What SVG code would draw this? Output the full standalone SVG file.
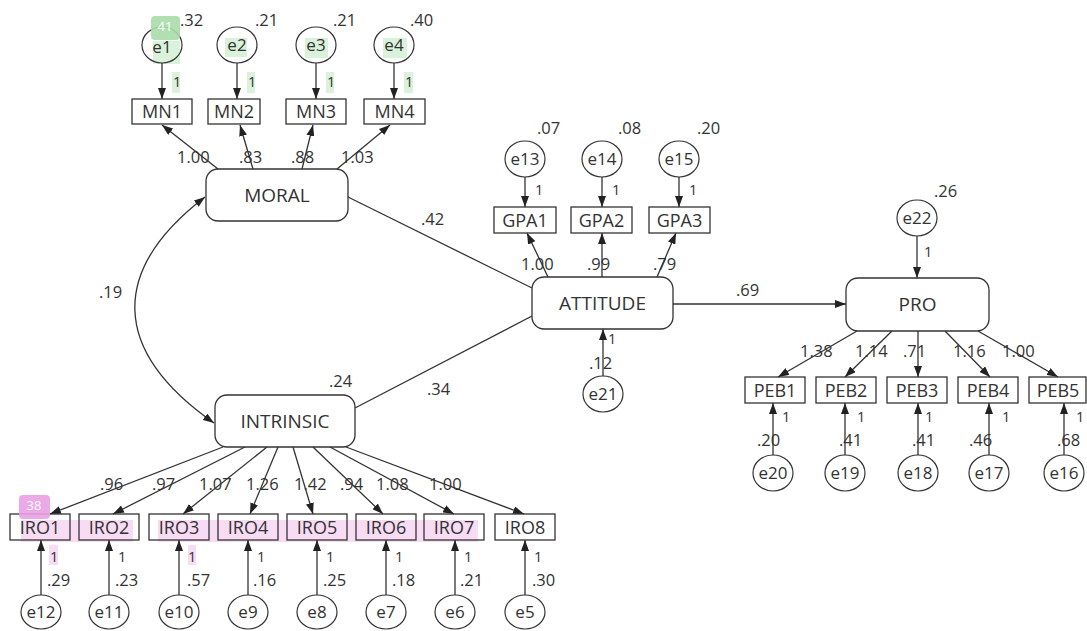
<svg xmlns="http://www.w3.org/2000/svg" width="1087" height="631" viewBox="0 0 1087 631">
<style>
text{font-family:"Open Sans","Liberation Sans",sans-serif;fill:#333}
.lat{fill:none;stroke:#333;stroke-width:1.3}
.obs{fill:none;stroke:#333;stroke-width:1.3}
.err{fill:none;stroke:#333;stroke-width:1.2}
.ll{font-size:19px;text-anchor:middle}
.ol{font-size:18px;text-anchor:middle}
.el{font-size:17px;text-anchor:middle}
.n{font-size:16.5px}
.one{font-size:14.5px}
.c line,.c path{stroke:#333;stroke-width:1.3;fill:none}
.a{marker-end:url(#ah)}
.hg{fill:#cdeccd;opacity:.75}
.hp{fill:#f6d3f1;opacity:.8}
.bt{font-size:13px;text-anchor:middle;fill:#fff}
</style>
<defs>
<marker id="ah" markerWidth="11" markerHeight="8" refX="11" refY="4" orient="auto-start-reverse" markerUnits="userSpaceOnUse">
<path d="M0,0 L11,4 L0,8 z" fill="#222"/>
</marker>
</defs>
<rect width="1087" height="631" fill="#fff"/>
<g id="highlights">
<rect class="hg" x="153" y="41" width="27" height="23"/>
<rect class="hg" x="172" y="72" width="8" height="21"/>
<rect class="hg" x="225" y="38" width="22" height="19"/>
<rect class="hg" x="247" y="72" width="8" height="21"/>
<rect class="hg" x="305" y="38" width="23" height="20"/>
<rect class="hg" x="326" y="72" width="8" height="21"/>
<rect class="hg" x="383" y="38" width="24" height="20"/>
<rect class="hg" x="404" y="72" width="9" height="21"/>
<rect class="hp" x="21" y="520" width="112" height="22"/>
<rect class="hp" x="158" y="520" width="320" height="22"/>
<rect class="hp" x="49" y="545" width="9" height="20"/>
<rect class="hp" x="188" y="545" width="8" height="20"/>
</g>
<g class="c" id="connectors">
<line class="a" x1="162" y1="63" x2="162" y2="99"/>
<line class="a" x1="237" y1="63" x2="237" y2="99"/>
<line class="a" x1="316" y1="63" x2="316" y2="99"/>
<line class="a" x1="394" y1="63" x2="394" y2="99"/>
<line class="a" x1="218" y1="169" x2="162" y2="125"/>
<line class="a" x1="253" y1="169" x2="240" y2="125"/>
<line class="a" x1="302" y1="169" x2="313" y2="125"/>
<line class="a" x1="337" y1="169" x2="390" y2="125"/>
<path d="M205,197 C110,270 110,350 214,423" marker-start="url(#ah)" marker-end="url(#ah)"/>
<line x1="348" y1="197" x2="532" y2="288"/>
<line x1="355" y1="408" x2="532" y2="316"/>
<line class="a" x1="525" y1="177" x2="525" y2="207"/>
<line class="a" x1="602" y1="177" x2="602" y2="207"/>
<line class="a" x1="679" y1="177" x2="679" y2="207"/>
<line class="a" x1="548" y1="277" x2="527" y2="233"/>
<line class="a" x1="602" y1="277" x2="602" y2="233"/>
<line class="a" x1="657" y1="277" x2="676" y2="233"/>
<line class="a" x1="603" y1="376" x2="603" y2="329"/>
<line class="a" x1="673" y1="304" x2="846" y2="304"/>
<line class="a" x1="917" y1="236" x2="917" y2="278"/>
<line class="a" x1="857" y1="331" x2="778" y2="377"/>
<line class="a" x1="892" y1="331" x2="845" y2="377"/>
<line class="a" x1="918" y1="331" x2="918" y2="377"/>
<line class="a" x1="945" y1="331" x2="990" y2="377"/>
<line class="a" x1="978" y1="331" x2="1058" y2="377"/>
<line class="a" x1="773" y1="455" x2="773" y2="403"/>
<line class="a" x1="845" y1="455" x2="845" y2="403"/>
<line class="a" x1="918" y1="455" x2="918" y2="403"/>
<line class="a" x1="989" y1="455" x2="989" y2="403"/>
<line class="a" x1="1064" y1="455" x2="1064" y2="403"/>
<line class="a" x1="223" y1="447" x2="50" y2="514"/>
<line class="a" x1="245" y1="447" x2="113" y2="514"/>
<line class="a" x1="267" y1="447" x2="183" y2="514"/>
<line class="a" x1="278" y1="447" x2="250" y2="514"/>
<line class="a" x1="293" y1="447" x2="313" y2="514"/>
<line class="a" x1="313" y1="447" x2="383" y2="514"/>
<line class="a" x1="330" y1="447" x2="454" y2="514"/>
<line class="a" x1="346" y1="447" x2="524" y2="514"/>
<line class="a" x1="41" y1="595" x2="41" y2="540"/>
<line class="a" x1="109" y1="595" x2="109" y2="540"/>
<line class="a" x1="179" y1="595" x2="179" y2="540"/>
<line class="a" x1="248" y1="595" x2="248" y2="540"/>
<line class="a" x1="317" y1="595" x2="317" y2="540"/>
<line class="a" x1="386" y1="595" x2="386" y2="540"/>
<line class="a" x1="455" y1="595" x2="455" y2="540"/>
<line class="a" x1="525" y1="595" x2="525" y2="540"/>
</g>
<g id="labels">
<text class="n" x="180" y="26">.32</text>
<text class="n" x="255" y="26">.21</text>
<text class="n" x="333" y="26">.21</text>
<text class="n" x="410" y="26">.40</text>
<text class="one" x="173" y="87">1</text>
<text class="one" x="248" y="87">1</text>
<text class="one" x="327" y="87">1</text>
<text class="one" x="405" y="87">1</text>
<text class="n" x="177" y="163">1.00</text>
<text class="n" x="239" y="163">.83</text>
<text class="n" x="291" y="163">.88</text>
<text class="n" x="341" y="163">1.03</text>
<text class="n" x="99" y="298">.19</text>
<text class="n" x="421" y="225">.42</text>
<text class="n" x="329" y="387">.24</text>
<text class="n" x="427" y="395">.34</text>
<text class="n" x="537" y="134">.07</text>
<text class="n" x="618" y="134">.08</text>
<text class="n" x="697" y="134">.20</text>
<text class="one" x="535" y="195">1</text>
<text class="one" x="612" y="195">1</text>
<text class="one" x="689" y="195">1</text>
<text class="n" x="521" y="270">1.00</text>
<text class="n" x="587" y="270">.99</text>
<text class="n" x="653" y="270">.79</text>
<text class="n" x="589" y="369">.12</text>
<text class="one" x="608" y="344">1</text>
<text class="n" x="934" y="197">.26</text>
<text class="one" x="924" y="257">1</text>
<text class="n" x="736" y="296">.69</text>
<text class="n" x="800" y="357">1.38</text>
<text class="n" x="855" y="357">1.14</text>
<text class="n" x="903" y="357">.71</text>
<text class="n" x="953" y="357">1.16</text>
<text class="n" x="1002" y="357">1.00</text>
<text class="one" x="782" y="422">1</text>
<text class="one" x="857" y="422">1</text>
<text class="one" x="925" y="422">1</text>
<text class="one" x="1002" y="422">1</text>
<text class="one" x="1076" y="422">1</text>
<text class="n" x="757" y="446">.20</text>
<text class="n" x="839" y="446">.41</text>
<text class="n" x="912" y="446">.41</text>
<text class="n" x="969" y="446">.46</text>
<text class="n" x="1057" y="446">.68</text>
<text class="n" x="100" y="490">.96</text>
<text class="n" x="152" y="490">.97</text>
<text class="n" x="199" y="490">1.07</text>
<text class="n" x="246" y="490">1.26</text>
<text class="n" x="294" y="490">1.42</text>
<text class="n" x="340" y="490">.94</text>
<text class="n" x="376" y="490">1.08</text>
<text class="n" x="429" y="490">1.00</text>
<text class="one" x="50" y="562">1</text>
<text class="one" x="118" y="562">1</text>
<text class="one" x="188" y="562">1</text>
<text class="one" x="257" y="562">1</text>
<text class="one" x="326" y="562">1</text>
<text class="one" x="395" y="562">1</text>
<text class="one" x="464" y="562">1</text>
<text class="one" x="534" y="562">1</text>
<text class="n" x="47" y="586">.29</text>
<text class="n" x="115" y="586">.23</text>
<text class="n" x="187" y="586">.57</text>
<text class="n" x="253" y="586">.16</text>
<text class="n" x="323" y="586">.25</text>
<text class="n" x="392" y="586">.18</text>
<text class="n" x="460" y="586">.21</text>
<text class="n" x="532" y="586">.30</text>
</g>
<g id="e1"><ellipse class="err" cx="162" cy="45" rx="20" ry="18"/><text class="el" x="162" y="53">e1</text></g>
<g id="e2"><ellipse class="err" cx="237" cy="45" rx="20" ry="18"/><text class="el" x="237" y="51">e2</text></g>
<g id="e3"><ellipse class="err" cx="316" cy="45" rx="20" ry="18"/><text class="el" x="316" y="51">e3</text></g>
<g id="e4"><ellipse class="err" cx="394" cy="45" rx="20" ry="18"/><text class="el" x="394" y="51">e4</text></g>
<g id="MN1"><rect class="obs" x="132" y="99" width="60" height="25"/><text class="ol" x="162" y="118">MN1</text></g>
<g id="MN2"><rect class="obs" x="208" y="99" width="52" height="25"/><text class="ol" x="234" y="118">MN2</text></g>
<g id="MN3"><rect class="obs" x="286" y="99" width="60" height="25"/><text class="ol" x="316" y="118">MN3</text></g>
<g id="MN4"><rect class="obs" x="364" y="99" width="61" height="25"/><text class="ol" x="394.5" y="118">MN4</text></g>
<g id="MORAL"><rect class="lat" x="206" y="169" width="142" height="52" rx="12"/><text class="ll" x="277" y="202">MORAL</text></g>
<g id="INTRINSIC"><rect class="lat" x="215" y="395" width="140" height="52" rx="12"/><text class="ll" x="285" y="428">INTRINSIC</text></g>
<g id="ATTITUDE"><rect class="lat" x="532" y="277" width="141" height="52" rx="12"/><text class="ll" x="602.5" y="310">ATTITUDE</text></g>
<g id="PRO"><rect class="lat" x="846" y="278" width="143" height="53" rx="12"/><text class="ll" x="917.5" y="311">PRO</text></g>
<g id="e13"><ellipse class="err" cx="525" cy="159" rx="20" ry="18"/><text class="el" x="525" y="165">e13</text></g>
<g id="e14"><ellipse class="err" cx="602" cy="159" rx="20" ry="18"/><text class="el" x="602" y="165">e14</text></g>
<g id="e15"><ellipse class="err" cx="679" cy="159" rx="20" ry="18"/><text class="el" x="679" y="165">e15</text></g>
<g id="GPA1"><rect class="obs" x="494" y="207" width="62" height="26"/><text class="ol" x="525" y="226.5">GPA1</text></g>
<g id="GPA2"><rect class="obs" x="571" y="207" width="61" height="26"/><text class="ol" x="601.5" y="226.5">GPA2</text></g>
<g id="GPA3"><rect class="obs" x="649" y="207" width="61" height="26"/><text class="ol" x="679.5" y="226.5">GPA3</text></g>
<g id="e21"><ellipse class="err" cx="603" cy="394" rx="20" ry="18"/><text class="el" x="603" y="400">e21</text></g>
<g id="e22"><ellipse class="err" cx="917" cy="218" rx="20" ry="18"/><text class="el" x="917" y="224">e22</text></g>
<g id="PEB1"><rect class="obs" x="745" y="377" width="60" height="26"/><text class="ol" x="775" y="396.5">PEB1</text></g>
<g id="PEB2"><rect class="obs" x="816" y="377" width="60" height="26"/><text class="ol" x="846" y="396.5">PEB2</text></g>
<g id="PEB3"><rect class="obs" x="887" y="377" width="60" height="26"/><text class="ol" x="917" y="396.5">PEB3</text></g>
<g id="PEB4"><rect class="obs" x="958" y="377" width="60" height="26"/><text class="ol" x="988" y="396.5">PEB4</text></g>
<g id="PEB5"><rect class="obs" x="1029" y="377" width="57" height="26"/><text class="ol" x="1058" y="396.5">PEB5</text></g>
<g id="e20"><ellipse class="err" cx="773" cy="473" rx="20" ry="18"/><text class="el" x="773" y="479">e20</text></g>
<g id="e19"><ellipse class="err" cx="845" cy="473" rx="20" ry="18"/><text class="el" x="845" y="479">e19</text></g>
<g id="e18"><ellipse class="err" cx="918" cy="473" rx="20" ry="18"/><text class="el" x="918" y="479">e18</text></g>
<g id="e17"><ellipse class="err" cx="989" cy="473" rx="20" ry="18"/><text class="el" x="989" y="479">e17</text></g>
<g id="e16"><ellipse class="err" cx="1064" cy="473" rx="20" ry="18"/><text class="el" x="1064" y="479">e16</text></g>
<g id="IRO1"><rect class="obs" x="10" y="514" width="60" height="26"/><text class="ol" x="40" y="534">IRO1</text></g>
<g id="IRO2"><rect class="obs" x="79" y="514" width="60" height="26"/><text class="ol" x="109" y="534">IRO2</text></g>
<g id="IRO3"><rect class="obs" x="149" y="514" width="60" height="26"/><text class="ol" x="179" y="534">IRO3</text></g>
<g id="IRO4"><rect class="obs" x="218" y="514" width="60" height="26"/><text class="ol" x="248" y="534">IRO4</text></g>
<g id="IRO5"><rect class="obs" x="287" y="514" width="60" height="26"/><text class="ol" x="317" y="534">IRO5</text></g>
<g id="IRO6"><rect class="obs" x="356" y="514" width="60" height="26"/><text class="ol" x="386" y="534">IRO6</text></g>
<g id="IRO7"><rect class="obs" x="424" y="514" width="60" height="26"/><text class="ol" x="454" y="534">IRO7</text></g>
<g id="IRO8"><rect class="obs" x="495" y="514" width="60" height="26"/><text class="ol" x="525" y="534">IRO8</text></g>
<g id="e12"><ellipse class="err" cx="41" cy="612" rx="20" ry="17"/><text class="el" x="41" y="618">e12</text></g>
<g id="e11"><ellipse class="err" cx="109" cy="612" rx="20" ry="17"/><text class="el" x="109" y="618">e11</text></g>
<g id="e10"><ellipse class="err" cx="179" cy="612" rx="20" ry="17"/><text class="el" x="179" y="618">e10</text></g>
<g id="e9"><ellipse class="err" cx="248" cy="612" rx="20" ry="17"/><text class="el" x="248" y="618">e9</text></g>
<g id="e8"><ellipse class="err" cx="317" cy="612" rx="20" ry="17"/><text class="el" x="317" y="618">e8</text></g>
<g id="e7"><ellipse class="err" cx="386" cy="612" rx="20" ry="17"/><text class="el" x="386" y="618">e7</text></g>
<g id="e6"><ellipse class="err" cx="455" cy="612" rx="20" ry="17"/><text class="el" x="455" y="618">e6</text></g>
<g id="e5"><ellipse class="err" cx="525" cy="612" rx="20" ry="17"/><text class="el" x="525" y="618">e5</text></g>
<g id="badges">
<rect x="151" y="16" width="29" height="24" rx="4" fill="#a8dca8" opacity=".9"/>
<text class="bt" x="165" y="31">41</text>
<rect x="19" y="495" width="31" height="24" rx="4" fill="#eaa0e6" opacity=".9"/>
<text class="bt" x="34" y="510">38</text>
</g>
</svg>
